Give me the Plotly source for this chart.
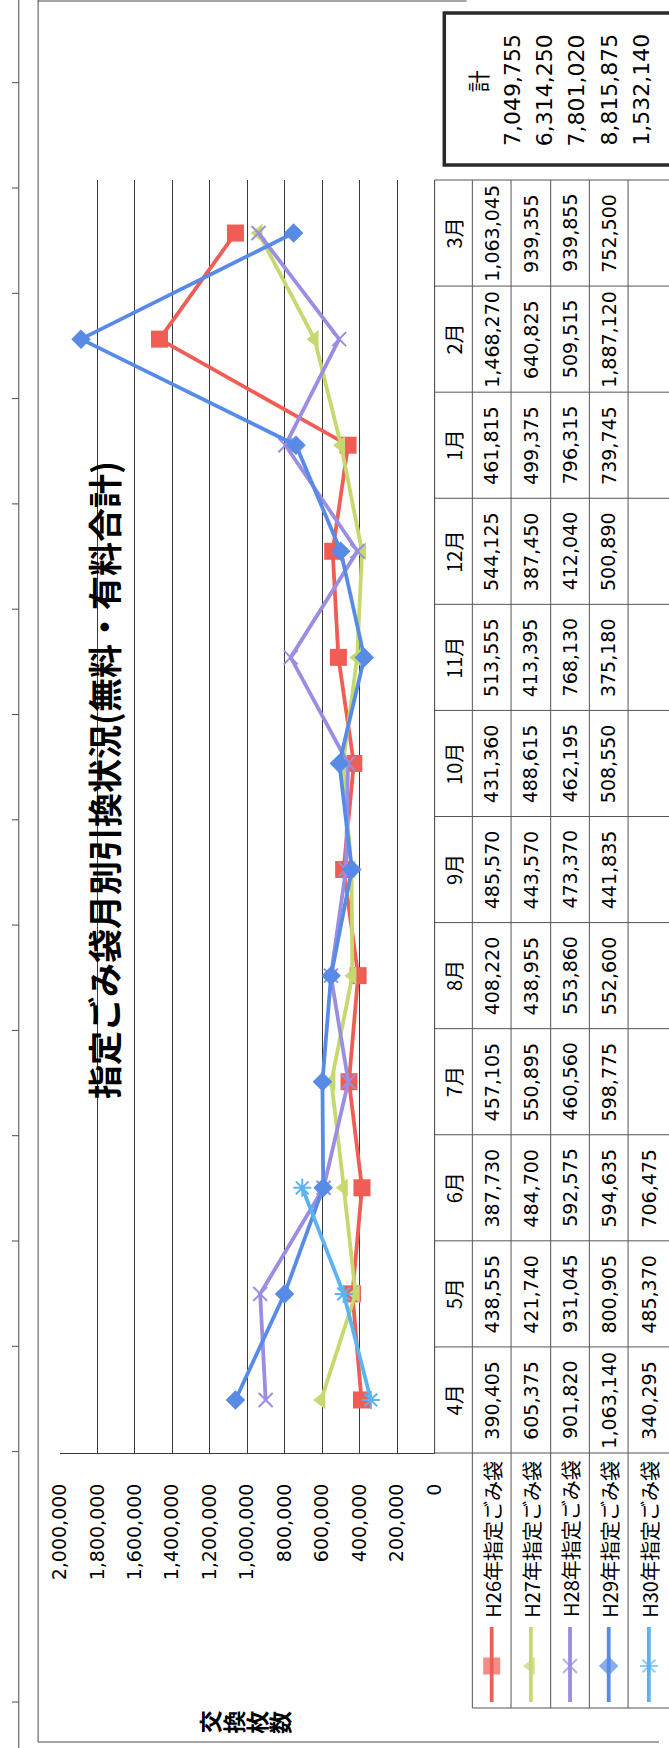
import plotly.graph_objects as go

# ---------------- data ----------------
months = ["4月", "5月", "6月", "7月", "8月", "9月", "10月", "11月", "12月", "1月", "2月", "3月"]
series_names = ["H26年指定ごみ袋", "H27年指定ごみ袋", "H28年指定ごみ袋", "H29年指定ごみ袋", "H30年指定ごみ袋"]
h26 = [390405, 438555, 387730, 457105, 408220, 485570, 431360, 513555, 544125, 461815, 1468270, 1063045]
h27 = [605375, 421740, 484700, 550895, 438955, 443570, 488615, 413395, 387450, 499375, 640825, 939355]
h28 = [901820, 931045, 592575, 460560, 553860, 473370, 462195, 768130, 412040, 796315, 509515, 939855]
h29 = [1063140, 800905, 594635, 598775, 552600, 441835, 508550, 375180, 500890, 739745, 1887120, 752500]
h30 = [340295, 485370, 706475]
totals = ["7,049,755", "6,314,250", "7,801,020", "8,815,875", "1,532,140"]
total_label = "計"
title_text = "指定ごみ袋月別引換状況(無料・有料合計)"
axis_title = "交換枚数"
value_ticks = [0, 200000, 400000, 600000, 800000, 1000000, 1200000, 1400000, 1600000, 1800000, 2000000]

series_values = [h26, h27, h28, h29, h30]

# ---------------- styles ----------------
colors = ["#EF5D55", "#C5D96F", "#9A8EE2", "#578BE6", "#5DB3F2"]
symbols = ["square", "triangle-left", "x-thin-open", "diamond", "asterisk-open"]
msizes = [17, 16, 14, 15, 15]
mline = [0, 0, 2, 0, 2]

W, H = 669, 1748
PLOT_L, PLOT_R = 49.5, 437
PLOT_T, PLOT_B = 180, 1453
COLS = [437, 476, 516, 557, 597, 637, 680]
LEG_B = 1708
NUM_FONT = "DejaVu Sans"
JP_FONT = "Noto Sans CJK JP"
GRID = "#3a3a3a"
TBL = "#555555"


def px(x):
    return x / W


def py(y):
    return 1 - y / H


N = len(months)
row_h = (PLOT_B - PLOT_T) / N


def row_y(i):
    # pixel y of the centre of category i (i = 0 is the bottom row)
    return PLOT_B - (i + 0.5) * row_h


fig = go.Figure()

for name, vals, col, sym, ms, mw in zip(series_names, series_values, colors, symbols, msizes, mline):
    fig.add_trace(go.Scatter(
        x=vals, y=months[:len(vals)], name=name, mode="lines+markers",
        line=dict(color=col, width=3.8),
        marker=dict(symbol=sym, size=ms, color=col, line=dict(color=col, width=mw)),
        showlegend=False, cliponaxis=False,
    ))

fig.update_layout(
    width=W, height=H, autosize=False,
    margin=dict(l=0, r=0, t=0, b=0),
    paper_bgcolor="white", plot_bgcolor="white",
    font=dict(family=JP_FONT, color="black"),
    xaxis=dict(
        domain=[px(PLOT_L), px(PLOT_R)], range=[2000000, 0],
        tickmode="array", tickvals=value_ticks, tickformat=",d", tickangle=-90,
        tickfont=dict(family=NUM_FONT, size=19, color="black"),
        showgrid=True, gridcolor=GRID, gridwidth=1,
        zeroline=True, zerolinecolor=GRID, zerolinewidth=1,
        showline=True, linecolor=GRID, linewidth=1,
        ticks="", ticklabelstandoff=22, fixedrange=True,
    ),
    yaxis=dict(
        domain=[py(PLOT_B), py(PLOT_T)], type="category",
        categoryorder="array", categoryarray=months, range=[-0.5, N - 0.5],
        showgrid=False, showticklabels=False, showline=False, zeroline=False,
        ticks="", fixedrange=True,
    ),
    xaxis2=dict(domain=[px(COLS[1]), 1], range=[COLS[1], W], visible=False, anchor="y2", fixedrange=True),
    yaxis2=dict(domain=[py(LEG_B), py(PLOT_B)], range=[LEG_B, PLOT_B], visible=False, anchor="x2",
                fixedrange=True),
)

shapes = []
annotations = []

# ---------------- data table grid ----------------
for i in range(N + 1):
    yy = PLOT_B - i * row_h
    shapes.append(dict(type="line", xref="paper", yref="paper", x0=px(COLS[0]), x1=px(COLS[-1]),
                       y0=py(yy), y1=py(yy), line=dict(color=TBL, width=1)))
shapes.append(dict(type="line", xref="paper", yref="paper", x0=px(COLS[0]), x1=px(COLS[0]),
                   y0=py(PLOT_T), y1=py(PLOT_B), line=dict(color=TBL, width=1)))
for c in COLS[1:-1]:
    shapes.append(dict(type="line", xref="paper", yref="paper", x0=px(c), x1=px(c),
                       y0=py(PLOT_T), y1=py(LEG_B), line=dict(color=TBL, width=1)))
shapes.append(dict(type="line", xref="paper", yref="paper", x0=px(COLS[1]), x1=px(COLS[-1]),
                   y0=py(LEG_B), y1=py(LEG_B), line=dict(color=TBL, width=1)))

# month header cells
hdr_x = (COLS[0] + COLS[1]) / 2
for i, m in enumerate(months):
    annotations.append(dict(xref="paper", yref="paper", x=px(hdr_x), y=py(row_y(i)), text=m, showarrow=False,
                            textangle=-90, font=dict(family=JP_FONT, size=20, color="black"),
                            xanchor="center", yanchor="middle"))
# value cells
for k, vals in enumerate(series_values):
    cx = (COLS[k + 1] + COLS[k + 2]) / 2
    for i, v in enumerate(vals):
        annotations.append(dict(xref="paper", yref="paper", x=px(cx), y=py(row_y(i)), text=f"{v:,}",
                                showarrow=False, textangle=-90,
                                font=dict(family=NUM_FONT, size=19, color="black"),
                                xanchor="center", yanchor="middle"))

# legend rows (series names + keys)
KEY_T, KEY_B, KEY_M = 1627, 1702, 1666
NAME_C = 1539
key_x, key_y = [], []
for k, name in enumerate(series_names):
    cx = (COLS[k + 1] + COLS[k + 2]) / 2
    annotations.append(dict(xref="paper", yref="paper", x=px(cx), y=py(NAME_C), text=name, showarrow=False,
                            textangle=-90, font=dict(family=JP_FONT, size=20, color="black"),
                            xanchor="center", yanchor="middle"))
    shapes.append(dict(type="line", xref="paper", yref="paper", x0=px(cx), x1=px(cx),
                       y0=py(KEY_T), y1=py(KEY_B), line=dict(color=colors[k], width=3.8)))
    key_x.append(cx)
    key_y.append(KEY_M)

fig.add_trace(go.Scatter(
    x=key_x, y=key_y, xaxis="x2", yaxis="y2", mode="markers", showlegend=False, hoverinfo="skip",
    marker=dict(symbol=symbols, size=msizes, color=colors, line=dict(color=colors, width=mline)),
    cliponaxis=False,
))

# ---------------- title & axis title ----------------
annotations.append(dict(xref="paper", yref="paper", x=px(94), y=py(780), text="<b>" + title_text + "</b>",
                        showarrow=False, textangle=-90, font=dict(family=JP_FONT, size=34, color="black"),
                        xanchor="center", yanchor="middle"))
for i, ch in enumerate(axis_title):
    annotations.append(dict(xref="paper", yref="paper", x=px(204 + 24 * i), y=py(1722), text="<b>" + ch + "</b>",
                            showarrow=False, textangle=-90, font=dict(family=JP_FONT, size=23, color="black"),
                            xanchor="center", yanchor="middle"))

# ---------------- totals box ----------------
shapes.append(dict(type="rect", xref="paper", yref="paper", x0=px(447), x1=px(700), y0=py(13), y1=py(165),
                   line=dict(color="#2a2a2a", width=3.5), fillcolor="rgba(0,0,0,0)"))
annotations.append(dict(xref="paper", yref="paper", x=px(481), y=py(81), text=total_label, showarrow=False,
                        textangle=-90, font=dict(family=JP_FONT, size=22, color="black"),
                        xanchor="center", yanchor="middle"))
for i, t in enumerate(totals):
    annotations.append(dict(xref="paper", yref="paper", x=px(517 + 33.3 * i), y=py(90), text=t, showarrow=False,
                            textangle=-90, font=dict(family=NUM_FONT, size=22, color="black"),
                            xanchor="center", yanchor="middle"))

# ---------------- page / chart frame lines ----------------
FR = "#4a4a4a"
shapes.append(dict(type="line", xref="paper", yref="paper", x0=px(7), x1=px(7), y0=py(0), y1=py(H),
                   line=dict(color=FR, width=1)))
shapes.append(dict(type="line", xref="paper", yref="paper", x0=px(27), x1=px(27), y0=py(0), y1=py(1742),
                   line=dict(color=FR, width=1)))
shapes.append(dict(type="line", xref="paper", yref="paper", x0=px(27), x1=px(W), y0=py(1742), y1=py(1742),
                   line=dict(color=FR, width=1)))
shapes.append(dict(type="line", xref="paper", yref="paper", x0=px(27), x1=px(470), y0=py(1), y1=py(1),
                   line=dict(color=FR, width=1)))
for k in range(-1, 13):
    yy = 188 + 105.3 * k
    shapes.append(dict(type="line", xref="paper", yref="paper", x0=0, x1=px(7), y0=py(yy), y1=py(yy),
                       line=dict(color=FR, width=1)))
shapes.append(dict(type="line", xref="paper", yref="paper", x0=0, x1=px(7), y0=py(1702), y1=py(1702),
                   line=dict(color=FR, width=1)))

fig.update_layout(shapes=shapes, annotations=annotations)
fig.write_html("out.html")
